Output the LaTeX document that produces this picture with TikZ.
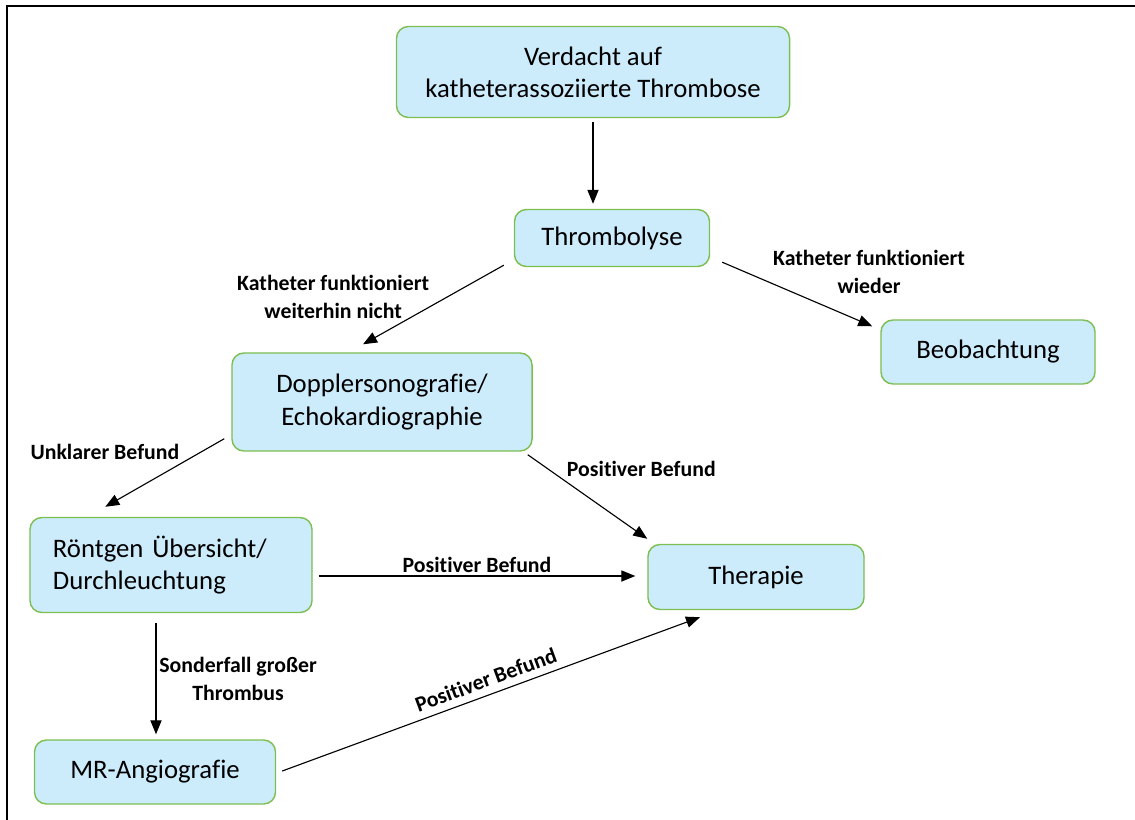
\documentclass[tikz,border=0pt]{standalone}
\usepackage{fontspec}
\setmainfont[Ligatures=NoCommon]{Carlito}
\usetikzlibrary{arrows.meta,calc}
\definecolor{boxfill}{RGB}{204,236,252}
\definecolor{boxline}{RGB}{125,190,80}

\tikzset{
  box/.style={draw=boxline, fill=boxfill, line width=1pt, rounded corners=0.3cm,
    align=center, inner sep=0pt, font=\fontsize{19}{23}\selectfont},
  lbl/.style={font=\fontsize{15.5}{20}\selectfont\bfseries, align=center, inner sep=2pt},
  arr/.style={-{Triangle[length=0.35cm,width=0.28cm]}, line width=0.8pt}
}

\begin{document}
\begin{tikzpicture}[x=0.025cm, y=-0.025cm]
        \useasboundingbox (0,0) rectangle (1135,820);
        \draw[line width=1.5pt] (7,820) -- (7,6) -- (1135,6);

        % boxes
        \node[box, minimum width=9.825cm, minimum height=2.275cm] (verdacht) at (593,72)
        {Verdacht auf\\katheterassoziierte Thrombose};
        \node[box, minimum width=4.875cm, minimum height=1.425cm] (thromb) at (612,238) {Thrombolyse};
        \node[box, minimum width=5.35cm, minimum height=1.6cm] (beob) at (988,352) {Beobachtung};
        \node[box, minimum width=7.5cm, minimum height=2.45cm] (doppler) at (382,402)
        {Dopplersonografie/\\Echokardiographie};
        \node[box, align=left, text width=5.9cm, inner xsep=0.575cm, minimum height=2.375cm]
        (roentgen) at (171,565) {Röntgen Übersicht/\\Durchleuchtung};
        \node[box, minimum width=5.4cm, minimum height=1.625cm] (therapie) at (756,577) {Therapie};
        \node[box, minimum width=6.025cm, minimum height=1.6cm] (mr) at (155,772) {MR-Angiografie};

        % connectors
        \path[arr]
        ($(verdacht.south)+(0,4)$) edge ($(verdacht.south |- thromb.north)+(0,-5)$)

        ($(thromb.south west)+(-10,-2)$) edge node [lbl, left, pos=0.45, xshift=-0.2cm, yshift=0.1cm]
        {Katheter funktioniert\\weiterhin nicht} ($(doppler.north)+(-19,-8)$)

        ($(thromb.south east)+(12,-5)$) edge node [lbl, right, pos=0.25, xshift=0.25cm, yshift=0.15cm]
        {Katheter funktioniert\\wieder} ($(beob.north west)+(-8,7)$)

        ($(doppler.south west)+(-7,-13)$) edge node [lbl, above left, pos=0.35]
        {Unklarer Befund} ($(roentgen.north west)+(76,-10)$)

        ($(doppler.south east)+(-5,3)$) edge node [lbl, above right, pos=0.3]
        {Positiver Befund} ($(therapie.north west)+(0,-5)$)

        ($(roentgen.east)+(6,11)$) edge node [lbl, above] {Positiver Befund} ($(therapie.west)+(-12,-1)$)

        ($(roentgen.south)+(-15,10)$) edge node [lbl, right]
        {Sonderfall großer\\Thrombus} ($(mr.north)+(1,-5)$)

        ($(mr.east)+(6,-1)$) edge node [lbl, sloped, above=3pt] {Positiver Befund} ($(therapie.south)+(-56,7)$)
        ;
\end{tikzpicture}
\end{document}
